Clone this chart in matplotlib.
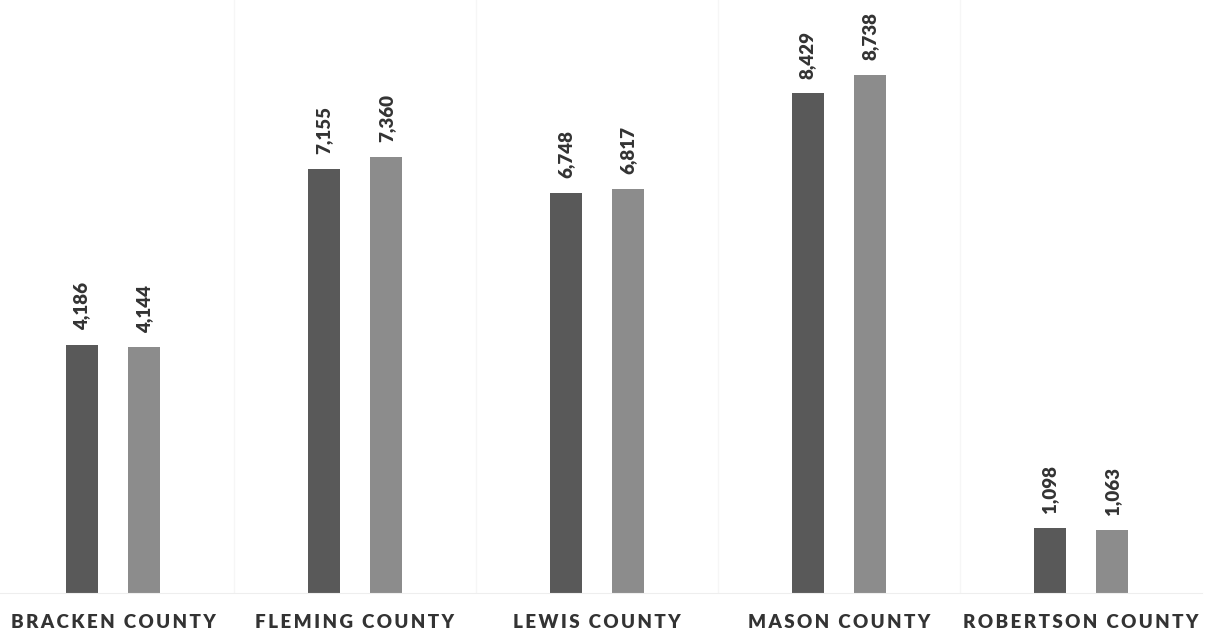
import numpy as np
import matplotlib.pyplot as plt

counties = ["BRACKEN COUNTY", "FLEMING COUNTY", "LEWIS COUNTY", "MASON COUNTY", "ROBERTSON COUNTY"]
series_a = [4186, 7155, 6748, 8429, 1098]
series_b = [4144, 7360, 6817, 8738, 1063]

def spaced(s):
    # mimic the wide letter spacing of the original labels
    return "\u2009".join(s)

fig = plt.figure(figsize=(12.07, 6.32), dpi=100)
ax = fig.add_axes([-8/1207, 39/632, 1210/1207, 593/632])

x = np.arange(len(counties))
w = 0.132
off = 0.13
bars_a = ax.bar(x - off, series_a, w, color="#595959")
bars_b = ax.bar(x + off, series_b, w, color="#8c8c8c")

for bars in (bars_a, bars_b):
    for b in bars:
        ax.annotate(f"{int(b.get_height()):,}", (b.get_x() + b.get_width()/2, b.get_height()),
                    xytext=(0, 10.5), textcoords="offset points", rotation=90,
                    ha="center", va="bottom", fontsize=13.5, fontweight="heavy",
                    color="#333333", family="Lato")

for s in np.arange(0.5, len(counties) - 1, 1):
    ax.axvline(s, color="#f6f6f6", lw=1)

ax.set_xlim(-0.5, len(counties) - 0.5)
ax.set_ylim(0, 10000)
ax.set_xticks(x)
ax.set_xticklabels([spaced(c) for c in counties], fontsize=13.5, fontweight="heavy",
                   color="#333333", family="Lato")
ax.tick_params(axis="x", length=0, pad=15)
ax.set_yticks([])
for side in ("top", "left", "right"):
    ax.spines[side].set_visible(False)
ax.spines["bottom"].set_color("#eeeeee")

fig.savefig("out.png", dpi=100)
